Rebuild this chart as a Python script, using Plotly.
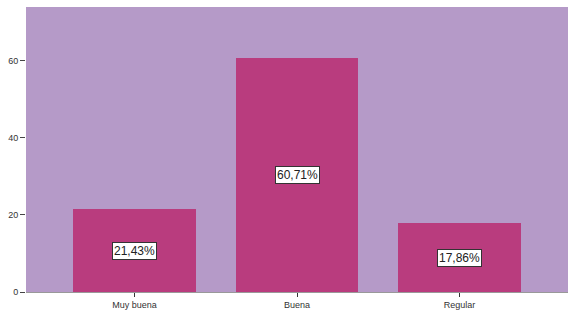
import plotly.graph_objects as go

categories = ["Muy buena", "Buena", "Regular"]
values = [21.43, 60.71, 17.86]
labels = ["21,43%", "60,71%", "17,86%"]
y_ticks = [0, 20, 40, 60]

fig = go.Figure()
fig.add_trace(go.Bar(
    x=categories, y=values, width=0.757,
    marker=dict(color="#B93C7E", line=dict(width=0)),
    hoverinfo="skip",
))
for c, v, t in zip(categories, values, labels):
    fig.add_annotation(
        x=c, y=v / 2, text=t, showarrow=False,
        font=dict(family="Liberation Sans, Arial", size=12, color="#222222"),
        bgcolor="white", bordercolor="#333333", borderwidth=1, borderpad=1,
    )

fig.update_layout(
    width=571, height=318,
    margin=dict(l=26, r=3, t=7, b=26),
    paper_bgcolor="white", plot_bgcolor="#B59AC8",
    showlegend=False, bargap=0,
    font=dict(family="Liberation Sans, Arial", size=9, color="#333333"),
)
fig.update_xaxes(
    range=[-0.668, 2.668], showgrid=False, ticks="outside", ticklen=4,
    tickcolor="#333333", showline=True, linecolor="#999999", linewidth=1,
    tickfont=dict(size=9),
)
fig.update_yaxes(
    range=[0, 74], tickvals=y_ticks, showgrid=False, zeroline=False,
    ticks="outside", ticklen=5, tickcolor="#444444", showline=False,
    tickfont=dict(size=9),
)
fig.write_html("out.html")
